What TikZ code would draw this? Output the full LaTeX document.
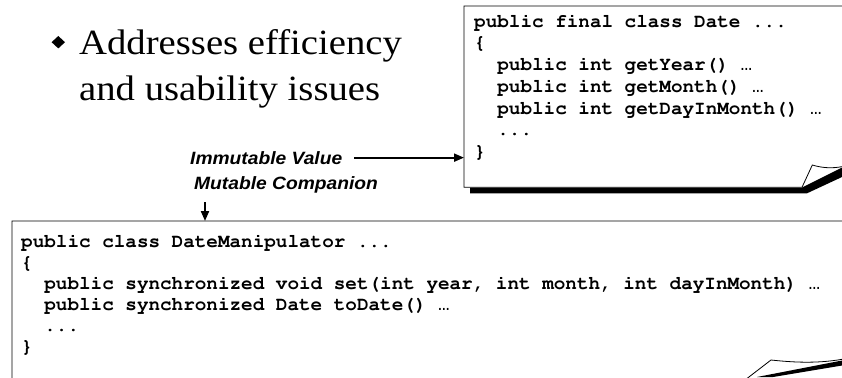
\documentclass[tikz,border=0pt]{standalone}
\usepackage[T1]{fontenc}
\usepackage{fontspec}
\setmainfont{Liberation Serif}
\newfontfamily\titlefont[FakeStretch=1.09]{Liberation Serif}
\newfontfamily\codefont{Liberation Mono}
\newfontfamily\labelfont[FakeStretch=1.08]{Liberation Sans}
\usetikzlibrary{arrows.meta}

% bold Courier for the listings
\newcommand\courierbf{\fontencoding{T1}\fontfamily{pcr}\fontseries{b}\fontshape{n}\selectfont}
% two-column indent and the small trailing ellipsis used in the listings
\newcommand\ind{\phantom{xx}}
\newcommand\trail{{\codefont\mdseries\char"2026}}

\begin{document}
\begin{tikzpicture}[x=1pt,y=-1pt,
  % multi-line nodes are placed by the baseline of their last line
  title/.style={font=\titlefont\fontsize{35.5}{45.5}\selectfont, align=left, inner sep=0pt, anchor=base west},
  datecode/.style={font=\courierbf\fontsize{19.3}{21.8}\selectfont, align=left, inner sep=0pt, anchor=base west},
  manipcode/.style={font=\courierbf\fontsize{19.3}{21.1}\selectfont, align=left, inner sep=0pt, anchor=base west},
  tag/.style={font=\labelfont\bfseries\itshape\fontsize{17.8}{25}\selectfont, inner sep=0pt, anchor=base west},
  arr/.style={line width=2pt, -{Triangle[length=10pt,width=8pt]}},
  page/.style={fill=white, draw=black, line width=0.8pt, line join=miter},
  curlshadow/.style={fill=black}
]
\useasboundingbox (0,0) rectangle (842,377);
\clip (0,0) rectangle (842,377);

% bullet and heading
\fill (58.3,36) -- (65,42.2) -- (58.3,48.4) -- (51.6,42.2) -- cycle;
\node[title] (head) at (79,100.5) {Addresses efficiency\\and usability issues};

% Date sheet: drop shadow with curled corner, then the sheet
\fill[curlshadow] (470,187.5) -- (802,187.5) -- (842,167.5) -- (842,177)
  -- (807,193.3) -- (470,193.3) -- cycle;
\draw[page] (464,6) -- (860,6) -- (860,166.7)
  -- (841.7,166.7) .. controls (832,168.5) and (822,168) .. (812.3,165)
  -- (802,187.3) -- (464,187.3) -- cycle;
\coordinate (dateL) at (464,6);

% DateManipulator sheet, its lower edge runs below the frame
\fill[curlshadow] (757,377) -- (842,360.5) -- (842,365.5) -- (773,377) -- cycle;
\draw[page] (12,221) -- (860,221) -- (860,359.3)
  -- (842,359.3) .. controls (815,364) and (790,362) .. (771,360)
  -- (745,380) -- (12,380) -- cycle;
\coordinate (manipT) at (12,221);

% listings
\node[datecode] (date) at (474,157.8) {public final class Date ...\\
\{\\
\ind public int getYear() \trail\\
\ind public int getMonth() \trail\\
\ind public int getDayInMonth() \trail\\
\ind ...\\
\}};

\node[manipcode] (manip) at (21,352.5) {public class DateManipulator ...\\
\{\\
\ind public synchronized void set(int year, int month, int dayInMonth) \trail\\
\ind public synchronized Date toDate() \trail\\
\ind ...\\
\}};

% pattern labels and their pointers
\node[tag] (iv) at (190,164) {Immutable Value};
\node[tag] (mc) at (194,189) {Mutable Companion};
\draw[arr] ([xshift=12pt]iv.east) -- (iv.east -| dateL);
\coordinate (mcfoot) at (205,202);
\draw[arr] (mcfoot) -- (mcfoot |- manipT);
\end{tikzpicture}
\end{document}
